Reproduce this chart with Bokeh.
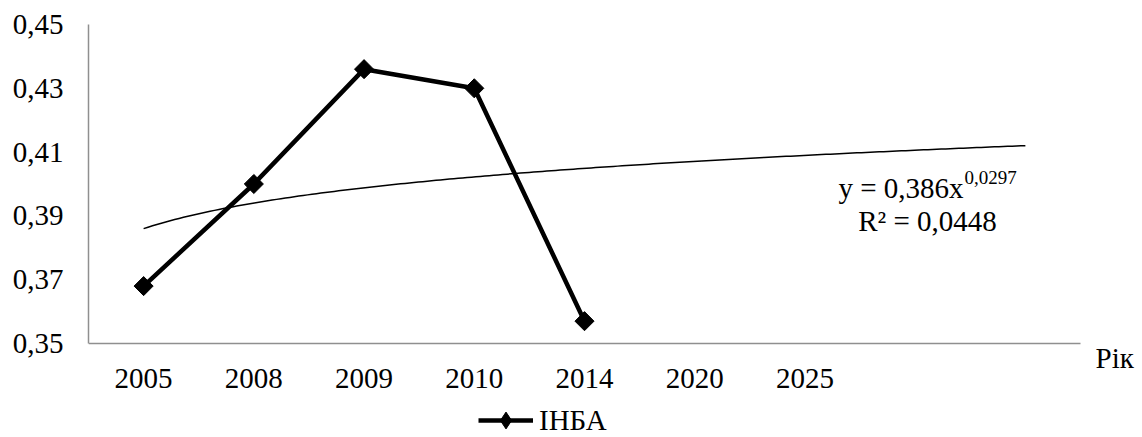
import numpy as np
from bokeh.plotting import figure
from bokeh.models import (FixedTicker, CustomJSTickFormatter, Label, Legend, LegendItem, Range1d,
                          ColumnDataSource)
from bokeh.embed import file_html
from bokeh.resources import INLINE

# ---- data ----
categories = ["2005", "2008", "2009", "2010", "2014", "2020", "2025", "", ""]
series_name = "ІНБА"
series_values = [0.368, 0.400, 0.436, 0.430, 0.357]
y_ticks = [0.35, 0.37, 0.39, 0.41, 0.43, 0.45]
y_min, y_max = 0.35, 0.45
trend_coef = 0.386
trend_exp = 0.0297
trend_r2 = "0,0448"
x_title = "Рік"

FONT = "Liberation Serif"

# layout (pixels)
W, H = 1142, 437
LEFT, TOP = 88, 24
AXIS_Y = 343          # pixel row of the x axis
AXIS_RIGHT = 1080     # pixel column where the x axis ends
n = len(categories)
px_per_cat = (AXIS_RIGHT - LEFT) / n
px_per_unit = (AXIS_Y - TOP) / (y_max - y_min)
x_end = 0.5 + (W - LEFT) / px_per_cat
y_start = y_min - (H - AXIS_Y) / px_per_unit

p = figure(width=W, height=H, output_backend="svg", toolbar_location=None,
           x_range=Range1d(0.5, x_end), y_range=Range1d(y_start, y_max),
           min_border_left=LEFT, min_border_right=0, min_border_top=TOP, min_border_bottom=0)
p.outline_line_color = None
p.grid.visible = False
p.background_fill_color = "white"
p.border_fill_color = "white"

xs = list(range(1, len(series_values) + 1))
src = ColumnDataSource(dict(x=xs, y=series_values, a=[np.pi / 4] * len(xs)))
line_r = p.line("x", "y", source=src, line_color="black", line_width=4.5)
# diamond key (hidden beneath the rotated squares) used for the legend glyph
key_r = p.scatter("x", "y", source=src, marker="diamond", size=17,
                  fill_color="black", line_color="black")
p.scatter("x", "y", source=src, marker="square", angle="a", size=13.5,
          fill_color="black", line_color="black")

# power trend line from the chart's own equation
tx = np.linspace(1, n, 200)
ty = trend_coef * tx ** trend_exp
p.line(tx, ty, line_color="black", line_width=1.5)

# axes
for ax in (p.xaxis[0], p.yaxis[0]):
    ax.axis_line_color = "#8f8f8f"
    ax.axis_line_width = 1.5
    ax.major_tick_line_color = None
    ax.minor_tick_line_color = None
    ax.major_tick_in = 0
    ax.major_tick_out = 0
    ax.major_label_text_font = FONT
    ax.major_label_text_font_size = "29px"
    ax.major_label_text_color = "black"

p.xaxis.ticker = FixedTicker(ticks=list(range(1, n + 1)))
p.xaxis.major_label_overrides = {i + 1: c for i, c in enumerate(categories)}
p.xaxis.major_label_standoff = 25
p.xaxis.fixed_location = y_min
p.xaxis.bounds = (0.5, n + 0.5)
p.yaxis.ticker = FixedTicker(ticks=y_ticks)
p.yaxis.formatter = CustomJSTickFormatter(code="return tick.toFixed(2).replace('.', ',');")
p.yaxis.major_label_standoff = 25
p.yaxis.bounds = (y_min, y_max)

def lab(x, y, text, size="29px", align="left"):
    p.add_layout(Label(x=x, y=y, x_units="screen", y_units="screen", text=text,
                       text_font=FONT, text_font_size=size, text_align=align,
                       text_baseline="alphabetic", text_color="black"))

# equation labels (screen units relative to the frame's bottom-left)
lab(875, H - 187, "y = " + f"{trend_coef:.3f}".replace(".", ",") + "x", align="right")
lab(876, H - 177, f"{trend_exp:.4f}".replace(".", ","), size="19px")
lab(839, H - 220, "R² = " + trend_r2, align="center")
lab(1007, H - 357, x_title)

legend = Legend(items=[LegendItem(label=series_name, renderers=[line_r, key_r])],
                location=(390, -4), orientation="horizontal",
                glyph_width=55, glyph_height=42, label_height=30, label_standoff=6,
                padding=0, margin=0, spacing=0,
                label_text_font=FONT, label_text_font_size="29px", label_text_color="black",
                border_line_color=None, background_fill_alpha=0)
p.add_layout(legend, "center")

open("out.html", "w").write(file_html(p, INLINE))
